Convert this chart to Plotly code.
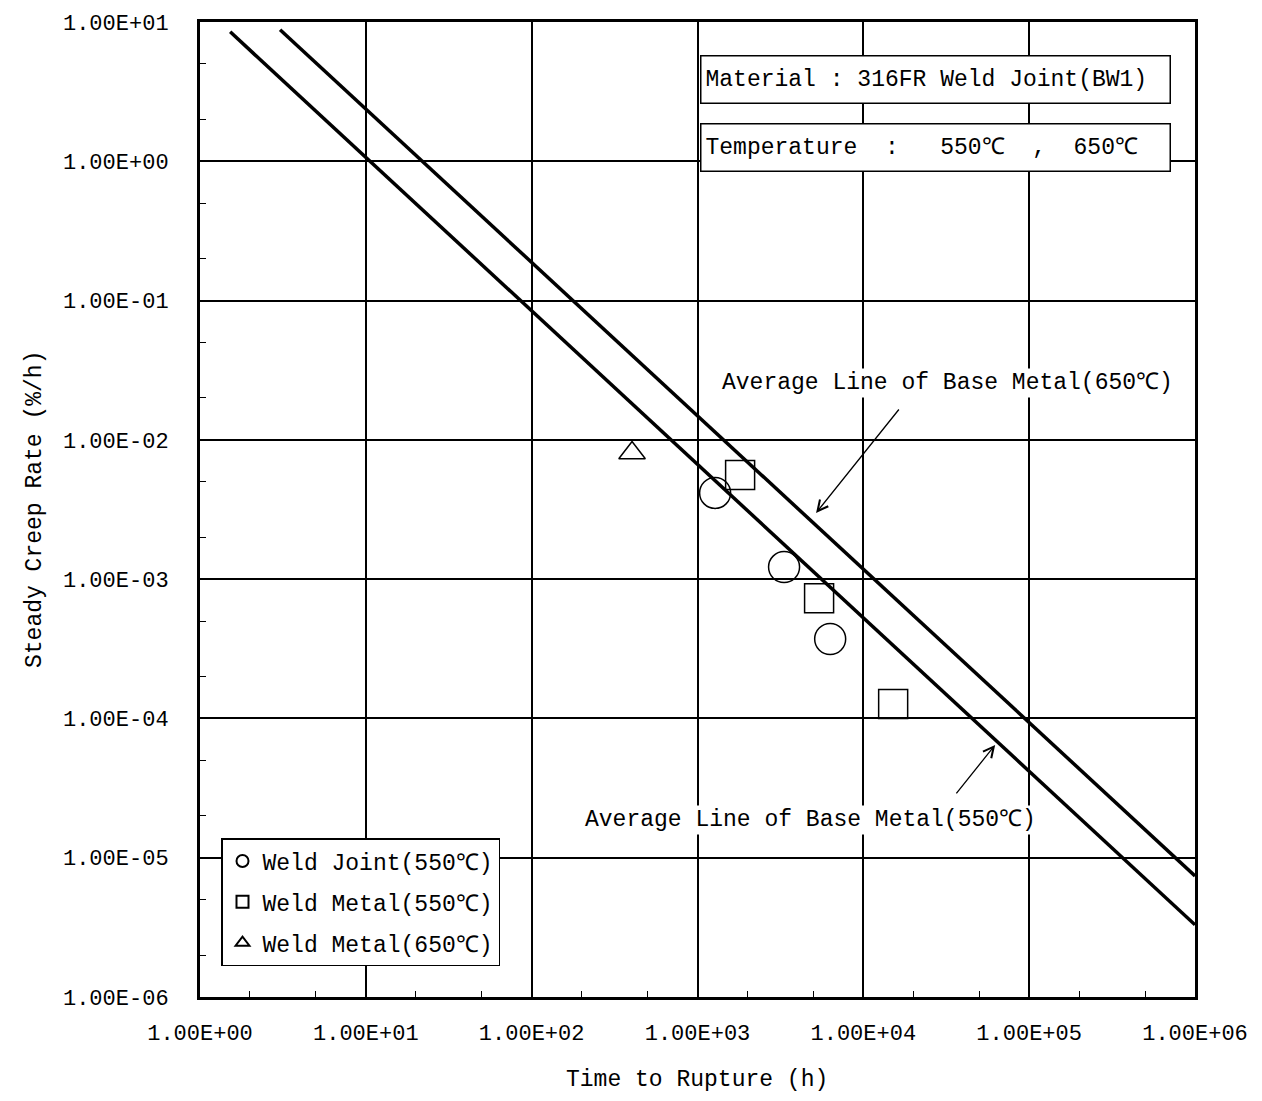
import plotly.graph_objects as go

# ---------------- data ----------------
# Weld Joint (550C)
wj550_time = [1277, 3327, 6310]
wj550_rate = [4.16e-3, 1.22e-3, 3.72e-4]
# Weld Metal (550C)
wm550_time = [1807, 5410, 15130]
wm550_rate = [5.6e-3, 7.3e-4, 1.27e-4]
# Weld Metal (650C)
wm650_time = [403]
wm650_rate = [8.05e-3]
# Average lines of base metal
base550_time = [1.52, 1.0e6]
base550_rate = [8.5, 3.3e-6]
base650_time = [3.04, 1.0e6]
base650_rate = [8.8, 7.4e-6]

x_tickvals = [1e0, 1e1, 1e2, 1e3, 1e4, 1e5, 1e6]
x_ticktext = ["1.00E+00", "1.00E+01", "1.00E+02", "1.00E+03", "1.00E+04", "1.00E+05", "1.00E+06"]
y_tickvals = [1e-6, 1e-5, 1e-4, 1e-3, 1e-2, 1e-1, 1e0, 1e1]
y_ticktext = ["1.00E-06", "1.00E-05", "1.00E-04", "1.00E-03", "1.00E-02", "1.00E-01", "1.00E+00", "1.00E+01"]

FONT = "Liberation Mono, DejaVu Sans Mono, monospace"

fig = go.Figure()

fig.add_trace(go.Scatter(x=base550_time, y=base550_rate, mode="lines",
                         line=dict(color="black", width=3.5), showlegend=False, hoverinfo="skip"))
fig.add_trace(go.Scatter(x=base650_time, y=base650_rate, mode="lines",
                         line=dict(color="black", width=3.5), showlegend=False, hoverinfo="skip"))

fig.add_trace(go.Scatter(x=wj550_time, y=wj550_rate, mode="markers", name="Weld Joint(550℃)",
                         legendgroup="a",
                         marker=dict(symbol="circle-open", size=31, color="black", line=dict(width=1.5))))
fig.add_trace(go.Scatter(x=wm550_time, y=wm550_rate, mode="markers", name="Weld Metal(550℃)",
                         legendgroup="b",
                         marker=dict(symbol="square-open", size=29, color="black", line=dict(width=1.5))))
fig.add_trace(go.Scatter(x=wm650_time, y=wm650_rate, mode="markers", name="Weld Metal(650℃)",
                         legendgroup="c",
                         marker=dict(symbol="triangle-up-open", size=23, color="black", line=dict(width=1.5))))

L, R, T, B = 200, 1195, 22, 997
W, H = R - L, B - T


def px(xp):
    return (xp - L) / W


def py(yp):
    return (B - yp) / H


def txt(text, xp, yp, **kw):
    d = dict(text=text, xref="paper", yref="paper", x=px(xp), y=py(yp),
             xanchor="center", yanchor="middle", showarrow=False,
             font=dict(family=FONT, size=23, color="black"))
    d.update(kw)
    return d


annotations = [
    txt("Material : 316FR Weld Joint(BW1)", 935, 79,
        bordercolor="black", borderwidth=1.5, borderpad=4, bgcolor="white", width=460, height=38,
        align="left"),
    txt("Temperature  :   550℃  ,  650℃", 935, 147,
        bordercolor="black", borderwidth=1.5, borderpad=4, bgcolor="white", width=460, height=38,
        align="left"),
    txt("Average Line of Base Metal(650℃)", 947, 383, bgcolor="white"),
    txt("Average Line of Base Metal(550℃)", 810, 820, bgcolor="white"),
    # arrows
    dict(text="", x=3.715, y=-2.525, xref="x", yref="y", showarrow=True,
         ax=84, ay=-105, arrowhead=5, arrowsize=1.6, arrowwidth=1.3, arrowcolor="black", standoff=0),
    dict(text="", x=4.795, y=-4.19, xref="x", yref="y", showarrow=True,
         ax=-40, ay=50, arrowhead=5, arrowsize=1.6, arrowwidth=1.3, arrowcolor="black", standoff=0),
    # axis titles
    txt("Time to Rupture (h)", 697, 1080),
    txt("Steady Creep Rate (%/h)", 35, 510, textangle=-90),
]

axis_common = dict(
    type="log", showline=True, linecolor="black", linewidth=3, mirror=True,
    showgrid=True, gridcolor="black", gridwidth=1.5, zeroline=False,
    ticks="inside", ticklen=8, tickwidth=1.5, tickcolor="black",
    tickfont=dict(family=FONT, size=22, color="black"),
    minor=dict(ticks="inside", ticklen=6, tickwidth=1.2, tickcolor="black", showgrid=False),
)

fig.update_layout(
    width=1262, height=1101,
    margin=dict(l=L, r=1262 - R, t=T, b=1101 - B, autoexpand=False),
    paper_bgcolor="white", plot_bgcolor="white",
    xaxis=dict(range=[0, 6], tickvals=x_tickvals, ticktext=x_ticktext, ticklabelstandoff=14, **axis_common),
    yaxis=dict(range=[-6, 1], tickvals=y_tickvals, ticktext=y_ticktext, ticklabelstandoff=24, **axis_common),
    legend=dict(x=px(221), y=py(838), xanchor="left", yanchor="top",
                bgcolor="white", bordercolor="black", borderwidth=1.5,
                font=dict(family=FONT, size=23, color="black"), tracegroupgap=8,
                itemsizing="constant"),
    annotations=annotations,
    showlegend=True,
)

fig.write_html("out.html", config={"displayModeBar": False},
               post_script="document.body.style.margin='0';document.body.style.overflow='hidden';")
